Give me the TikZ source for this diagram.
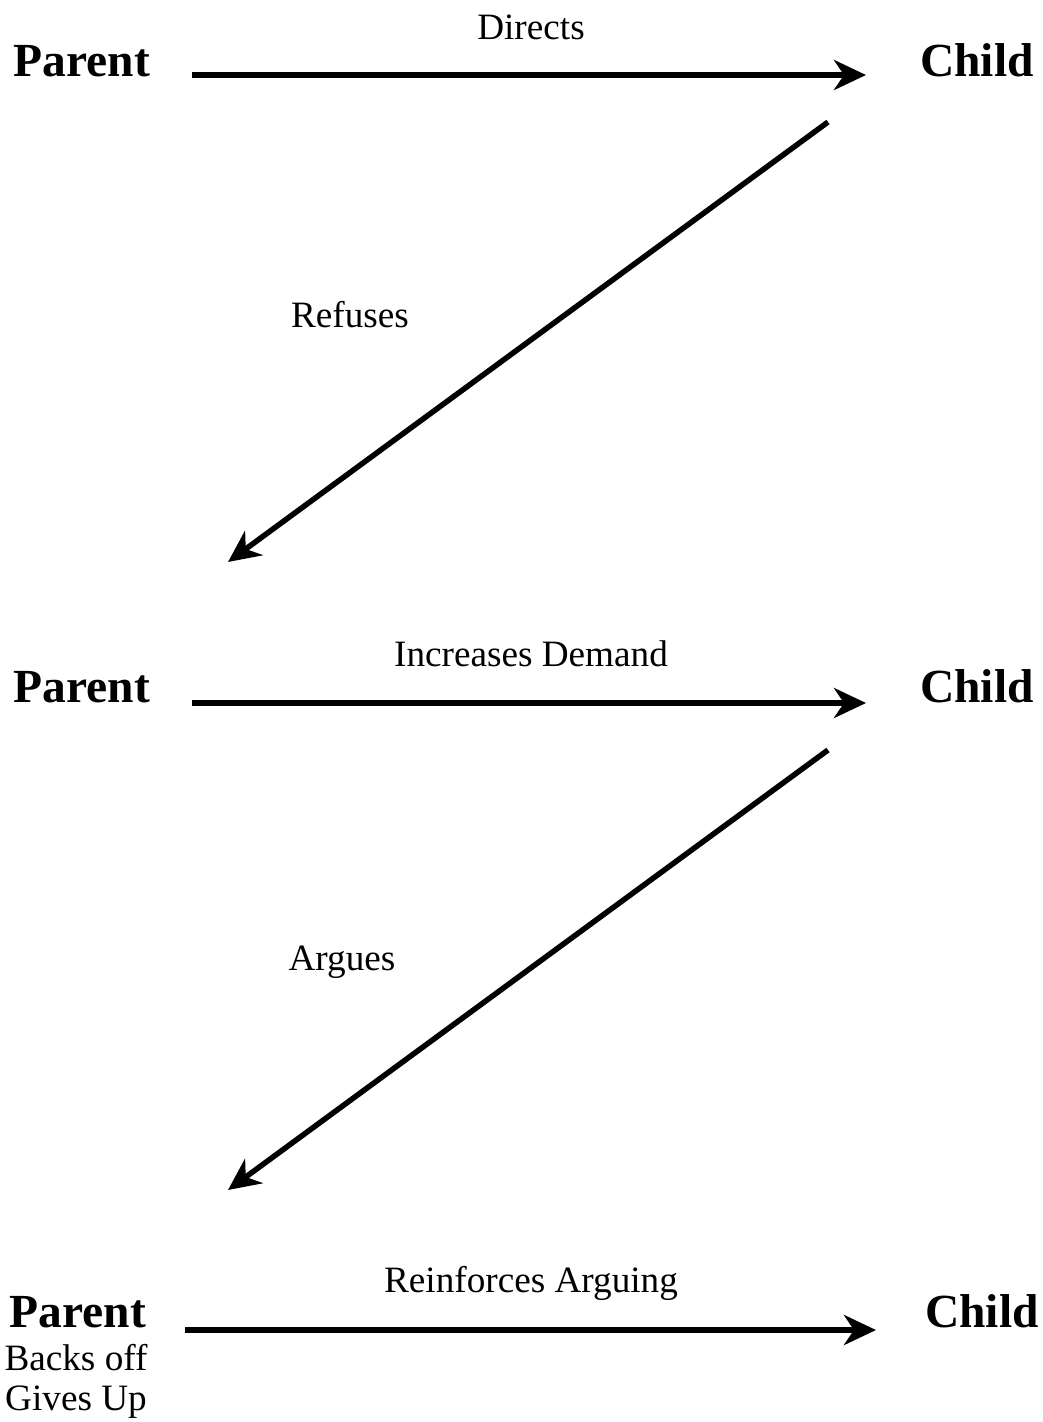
\documentclass[tikz,border=0pt]{standalone}
\usepackage{fontspec}
\setmainfont{Liberation Serif}
\usetikzlibrary{arrows.meta}
\begin{document}
\begin{tikzpicture}[x=1pt,y=-1pt,
  who/.style={font=\fontsize{47.5}{50}\selectfont\bfseries, anchor=base, inner sep=0pt},
  lbl/.style={font=\fontsize{37.2}{40}\selectfont, anchor=base, inner sep=0pt},
  arr/.style={line width=5.5pt, -{Stealth[length=32pt,width=30pt,inset=10pt]}}]
\useasboundingbox (0,0) rectangle (1043,1422);
% row 1
\node[who] (p1) at (82,76) {Parent};
\node[who] (c1) at (977,76) {Child};
\coordinate (a1s) at (192,75);
\coordinate (a1e) at (866,75);
\draw[arr] (a1s) -- (a1e);
\node[lbl] (l1) at (531,39) {Directs};
\coordinate (d1s) at (828,122);
\coordinate (d1e) at (228,562);
\draw[arr] (d1s) -- (d1e);
\node[lbl] (r1) at (350,327) {Refuses};
% row 2
\node[who] (p2) at (82,702) {Parent};
\node[who] (c2) at (977,702) {Child};
\coordinate (a2s) at (192,703);
\coordinate (a2e) at (866,703);
\draw[arr] (a2s) -- (a2e);
\node[lbl] (l2) at (531,666) {Increases Demand};
\coordinate (d2s) at (828,750);
\coordinate (d2e) at (228,1190);
\draw[arr] (d2s) -- (d2e);
\node[lbl] (r2) at (342,970) {Argues};
% row 3
\node[who] (p3) at (78,1327) {Parent};
\node[who] (c3) at (982,1327) {Child};
\coordinate (a3s) at (185,1330);
\coordinate (a3e) at (876,1330);
\draw[arr] (a3s) -- (a3e);
\node[lbl] (l3) at (531,1292) {Reinforces Arguing};
\node[lbl] (b1) at (76,1370) {Backs off};
\node[lbl] (b2) at (76,1410) {Gives Up};
\end{tikzpicture}
\end{document}
